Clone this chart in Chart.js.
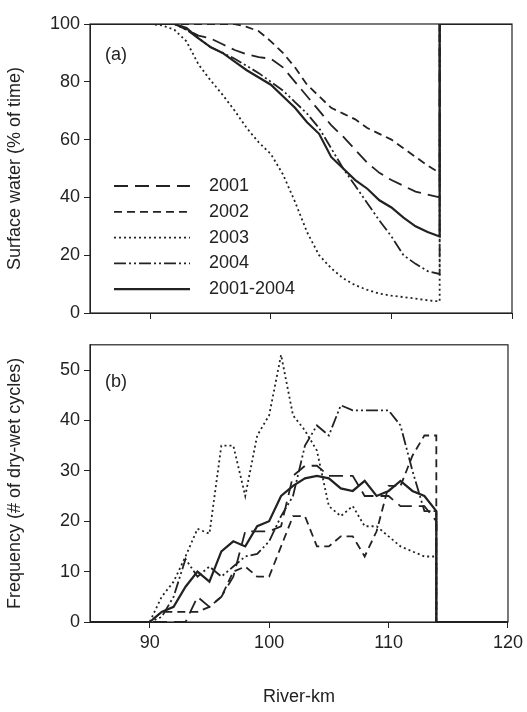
<!DOCTYPE html>
<html>
<head>
<meta charset="utf-8">
<script src="https://cdn.jsdelivr.net/npm/chart.js@4"></script>
<style>
  body { margin: 0; background: #fff; }
  canvas { position: absolute; left: 0; }
</style>
</head>
<body>
<canvas id="topChart" style="top:0" width="527" height="330"></canvas>
<canvas id="botChart" style="top:330px" width="527" height="382"></canvas>
<script>
// river-km 85..114 (1 km steps)
var km = [];
for (var k = 85; k <= 114; k++) km.push(k);

var seriesNames = ['2001', '2002', '2003', '2004', '2001-2004'];

// (a) surface water, % of time
var surf2001 = [100,100,100,100,100,100,100,100,98,96,95,93,91,89.5,88.5,88,85,80,75,70,65,61,56.5,52,48.5,46,44,42,41,40];
var surf2002 = [100,100,100,100,100,100,100,100,100,100,100,100,100,99,97.5,94,90,85,79,75,71,69,67,64,62,60,57,54,51,48.5];
var surf2003 = [100,100,100,100,100,100,99.5,98,94,86,80.5,75.5,70,64,59,55,48,38.5,28,20,15.5,12,9.6,8,6.7,6,5.5,5,4.4,4];
var surf2004 = [100,100,100,100,100,100,100,100,98,95,92,90,88,85.5,83,80,77,73,69,64,57,50,44,38,32,26.5,20,17,14.5,13.5];
var surfAll  = [100,100,100,100,100,100,100,100,98.6,95,92,90,87,84,81.5,79,75,71,66,62,54,50,46,43,39,36.5,33,30,28,26.5];

// (b) frequency, number of dry-wet cycles
var freq2001 = [0,0,0,0,0,0,0,0,0,5,3,5,9,18,18,18,19,29,31,31,29,29,29,25,25,25,23,23,23,20];
var freq2002 = [0,0,0,0,0,0,2,2,2,2,3,5,10,11,9,9,15,21,21,15,15,17,17,13,18,27,27,33,37,37];
var freq2003 = [0,0,0,0,0,0,5,8,13,18.5,17.5,35,35,25,37,41,53,41,38,34,23,21,23,19,19,17,15,14,13,13];
var freq2004 = [0,0,0,0,0,0,1,5,12.5,9,11,9,11,13,13.5,16,21,25,35,39,37,43,42,42,42,42,39,30,22,22];
var freqAll  = [0,0,0,0,0,0,2,3,7,10,8,14,16,15,19,20,25,27,28.5,29,28.5,26.5,26,28,25,26,28,26,25,22];

var dashes = [[14,7],[8,5],[2,3],[12,3,2,3,2,3],[]];
var widths = [1.8,1.8,1.8,1.8,2.2];
var ink = '#222';
var font = { family: 'Liberation Sans, Arial, sans-serif', size: 18 };

function toPoints(vals, endY) {
  var pts = vals.map(function (v, i) { return { x: km[i], y: v }; });
  pts.push({ x: 114, y: endY }, { x: 120, y: endY });
  return pts;
}

function makeSets(list, endY) {
  return list.map(function (vals, i) {
    return {
      label: seriesNames[i],
      data: toPoints(vals, endY),
      borderColor: ink,
      borderWidth: widths[i],
      borderDash: dashes[i],
      pointRadius: 0,
      fill: false,
      tension: 0
    };
  });
}

var boxPlugin = {
  id: 'box',
  afterDraw: function (chart, args, opts) {
    var a = chart.chartArea, ctx = chart.ctx;
    ctx.save();
    ctx.strokeStyle = ink;
    ctx.lineWidth = 1.2;
    ctx.setLineDash([]);
    ctx.strokeRect(a.left, a.top, a.right - a.left, a.bottom - a.top);
    ctx.fillStyle = ink;
    ctx.font = '18px Liberation Sans, Arial, sans-serif';
    ctx.textBaseline = 'middle';
    ctx.fillText(opts.tag, 105, a.top + opts.tagY);
    if (opts.legend) {
      chart.data.datasets.forEach(function (ds, i) {
        var y = 186 + i * 25.8;
        ctx.beginPath();
        ctx.lineWidth = ds.borderWidth;
        ctx.setLineDash(ds.borderDash);
        ctx.moveTo(114, y);
        ctx.lineTo(190, y);
        ctx.stroke();
        ctx.setLineDash([]);
        ctx.fillText(ds.label, 209, y);
      });
    }
    ctx.restore();
  }
};

function makeOptions(cfg) {
  return {
    responsive: false,
    animation: false,
    layout: { padding: { top: cfg.padTop, right: 15, bottom: 0, left: 0 } },
    plugins: { legend: { display: false }, tooltip: { enabled: false },
      box: { tag: cfg.tag, tagY: cfg.tagY, legend: cfg.legend } },
    scales: {
      x: {
        type: 'linear', min: 85, max: 120,
        afterBuildTicks: function (s) { s.ticks = [90, 100, 110, 120].map(function (v) { return { value: v }; }); },
        afterFit: function (s) { s.height = cfg.xHeight; },
        grid: { drawOnChartArea: false, tickLength: 6, color: ink },
        border: { color: ink },
        ticks: { display: cfg.xLabels, color: ink, font: font, padding: 4 },
        title: { display: cfg.xLabels, text: 'River-km', color: ink, font: font, padding: { top: 8 } }
      },
      y: {
        min: 0, max: cfg.yMax,
        afterBuildTicks: function (s) { s.ticks = cfg.yTicks.map(function (v) { return { value: v }; }); },
        afterFit: function (s) { s.width = 90; },
        grid: { drawOnChartArea: false, tickLength: 6, color: ink },
        border: { color: ink },
        ticks: { color: ink, font: font, padding: 4 },
        title: { display: true, text: cfg.yTitle, color: ink, font: font, padding: { bottom: 1 } }
      }
    }
  };
}

new Chart(document.getElementById('topChart'), {
  type: 'line',
  data: { datasets: makeSets([surf2001, surf2002, surf2003, surf2004, surfAll], 100) },
  options: makeOptions({ padTop: 24, xHeight: 17, xLabels: false, yMax: 100, yTicks: [0,20,40,60,80,100],
    yTitle: 'Surface water (% of time)', tag: '(a)', tagY: 31, legend: true }),
  plugins: [boxPlugin]
});

new Chart(document.getElementById('botChart'), {
  type: 'line',
  data: { datasets: makeSets([freq2001, freq2002, freq2003, freq2004, freqAll], 0) },
  options: makeOptions({ padTop: 13, xHeight: 90, xLabels: true, yMax: 55, yTicks: [0,10,20,30,40,50],
    yTitle: 'Frequency (# of dry-wet cycles)', tag: '(b)', tagY: 37, legend: false }),
  plugins: [boxPlugin]
});
</script>
</body>
</html>
